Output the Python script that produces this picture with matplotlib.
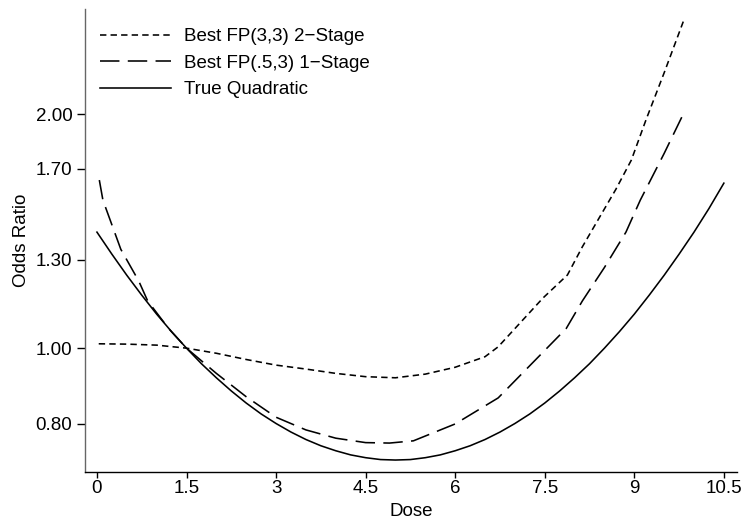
import numpy as np
import matplotlib
matplotlib.use("Agg")
import matplotlib.pyplot as plt
from matplotlib.ticker import FixedLocator, FixedFormatter, NullLocator

plt.rcParams['font.family'] = ['Liberation Sans', 'DejaVu Sans']
plt.rcParams['lines.scale_dashes'] = False

# values
fp33_dose = [0.03, 0.5, 1.0, 1.5, 2.0, 2.5, 3.0, 3.5, 4.0, 4.5, 5.0, 5.5, 6.0,
             6.5, 6.72, 7.47, 7.88, 8.13, 8.41, 8.69, 8.95, 9.2, 9.5, 9.82]
fp33_or = [1.013, 1.012, 1.009, 1.0, 0.985, 0.967, 0.951, 0.940, 0.928, 0.919,
           0.916, 0.926, 0.945, 0.975, 1.004, 1.16, 1.242, 1.35, 1.47, 1.60,
           1.745, 1.97, 2.26, 2.63]

fp53_dose = [0.04, 0.1, 0.4, 0.7, 0.85, 1.2, 1.5, 2.0, 2.5, 3.0, 3.5, 4.0, 4.5,
             4.9, 5.3, 6.0, 6.72, 7.86, 8.13, 8.5, 8.86, 9.1, 9.5, 9.82]
fp53_or = [1.645, 1.55, 1.34, 1.22, 1.15, 1.06, 1.0, 0.928, 0.866, 0.815, 0.785,
           0.766, 0.756, 0.755, 0.76, 0.799, 0.863, 1.06, 1.15, 1.27, 1.41, 1.55,
           1.78, 2.0]

quad_dose = [0.0, 0.25, 0.5, 0.75, 1.0, 1.25, 1.5, 1.75, 2.0, 2.25, 2.5, 2.75,
             3.0, 3.25, 3.5, 3.75, 4.0, 4.25, 4.5, 4.75, 5.0, 5.25, 5.5, 5.75,
             6.0, 6.25, 6.5, 6.75, 7.0, 7.25, 7.5, 7.75, 8.0, 8.25, 8.5, 8.75,
             9.0, 9.25, 9.5, 9.75, 10.0, 10.25, 10.5]
quad_or = [1.41, 1.321, 1.241, 1.170, 1.106, 1.050, 1.0, 0.955, 0.916, 0.881,
           0.850, 0.823, 0.800, 0.780, 0.763, 0.749, 0.738, 0.729, 0.723, 0.719,
           0.718, 0.719, 0.723, 0.729, 0.738, 0.749, 0.763, 0.780, 0.800, 0.823,
           0.850, 0.881, 0.916, 0.955, 1.0, 1.050, 1.106, 1.170, 1.241, 1.321,
           1.41, 1.512, 1.63]

x_ticks = [0, 1.5, 3, 4.5, 6, 7.5, 9, 10.5]
x_labels = ['0', '1.5', '3', '4.5', '6', '7.5', '9', '10.5']
y_ticks = [0.8, 1.0, 1.3, 1.7, 2.0]
y_labels = ['0.80', '1.00', '1.30', '1.70', '2.00']

fig = plt.figure(figsize=(7.45, 5.21), dpi=100)
ax = fig.add_axes([85 / 745, 1 - 472 / 521, 652 / 745, 463 / 521])

lw = 1.15
ax.plot(fp33_dose, fp33_or, color='black', lw=lw, dashes=(4.6, 3.0),
        label='Best FP(3,3) 2\u2212Stage')
ax.plot(fp53_dose, fp53_or, color='black', lw=lw, dashes=(14.0, 6.0),
        label='Best FP(.5,3) 1\u2212Stage')
ax.plot(quad_dose, quad_or, color='black', lw=lw, label='True Quadratic')

ax.set_yscale('log')
ax.set_xlim(-0.2, 10.72)
ax.set_ylim(0.693, 2.73)

ax.xaxis.set_major_locator(FixedLocator(x_ticks))
ax.xaxis.set_major_formatter(FixedFormatter(x_labels))
ax.yaxis.set_major_locator(FixedLocator(y_ticks))
ax.yaxis.set_major_formatter(FixedFormatter(y_labels))
ax.xaxis.set_minor_locator(NullLocator())
ax.yaxis.set_minor_locator(NullLocator())

for side in ['top', 'right']:
    ax.spines[side].set_visible(False)
ax.spines['left'].set_color('#666666')
ax.spines['left'].set_linewidth(1.0)
ax.spines['bottom'].set_linewidth(1.0)
ax.tick_params(axis='x', direction='out', length=4.5, width=1.0, pad=1.5, labelsize=13.5)
ax.tick_params(axis='y', direction='out', length=5.5, width=1.0, pad=3.5, labelsize=13.5)

ax.set_xlabel('Dose', fontsize=13.5, labelpad=4)
ax.set_ylabel('Odds Ratio', fontsize=13.5, labelpad=4)

ax.legend(loc='upper left', bbox_to_anchor=(0.023, 0.959), frameon=False,
          fontsize=13.5, handlelength=3.8, handletextpad=0.7, labelspacing=0.5,
          borderpad=0, borderaxespad=0)

fig.savefig('out.png', dpi=100)
